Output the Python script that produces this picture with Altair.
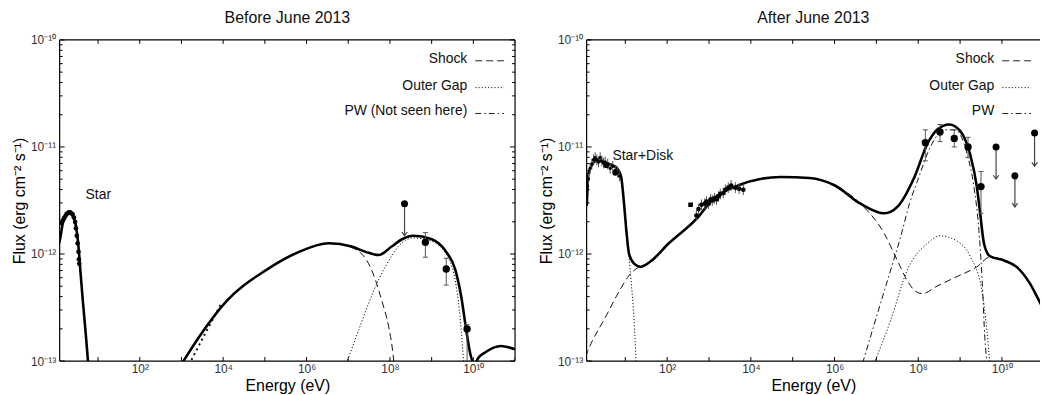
import altair as alt
import pandas as pd

# ---------------- data: log10(E/eV) and log10(flux) ----------------
# Left panel: Before June 2013
L_star_logE = [0.05, 0.09, 0.15, 0.21, 0.27, 0.33, 0.39, 0.45, 0.50, 0.54, 0.57, 0.64, 0.71, 0.77]
L_star_logF = [-11.92, -11.86, -11.72, -11.65, -11.62, -11.62, -11.64, -11.70, -11.82, -11.97, -12.13, -12.46, -12.77, -13.06]
L_starpts_logE = [0.12, 0.15, 0.18, 0.21, 0.24, 0.27, 0.30, 0.33, 0.36, 0.39, 0.42, 0.45, 0.47, 0.49, 0.51, 0.53, 0.54, 0.55]
L_starpts_logF = [-11.71, -11.69, -11.67, -11.65, -11.63, -11.62, -11.61, -11.61, -11.62, -11.63, -11.66, -11.70, -11.76, -11.83, -11.90, -11.98, -12.05, -12.09]
L_total_logE = [3.0, 3.43, 4.08, 5.03, 5.82, 6.53, 7.08, 7.42, 7.73, 8.04, 8.30, 8.56, 8.99, 9.33, 9.57, 9.71, 9.83, 9.92, 10.02, 10.12, 10.28, 10.66, 11.0]
L_total_logF = [-13.03, -12.77, -12.44, -12.15, -11.98, -11.90, -11.93, -11.98, -12.01, -11.93, -11.86, -11.83, -11.86, -11.97, -12.15, -12.40, -12.71, -12.92, -13.03, -12.97, -12.92, -12.86, -12.89]
L_shock_logE = [3.0, 3.43, 4.08, 5.03, 5.82, 6.53, 7.01, 7.41, 7.65, 7.80, 7.97, 8.05, 8.10]
L_shock_logF = [-13.03, -12.77, -12.44, -12.15, -11.98, -11.90, -11.93, -12.04, -12.24, -12.43, -12.68, -12.86, -13.03]
L_og_logE = [6.96, 7.25, 7.49, 7.73, 8.04, 8.20, 8.56, 8.99, 9.33, 9.59, 9.69, 9.77]
L_og_logF = [-13.02, -12.71, -12.46, -12.24, -12.02, -11.93, -11.85, -11.88, -11.99, -12.30, -12.62, -13.02]
L_xdot_logE = [3.24, 3.60, 3.96]
L_xdot_logF = [-12.99, -12.72, -12.46]
L_pts_logE = [8.85, 9.35, 9.85]
L_pts_logF = [-11.89, -12.14, -12.70]
L_pts_hi = [-11.80, -12.04, -12.66]
L_pts_lo = [-12.03, -12.29, -13.0]
L_ul_logE = [8.35]
L_ul_logF = [-11.53]
L_ul_tip = [-11.83]

# Right panel: After June 2013
R_total_logE = [0.08, 0.12, 0.2, 0.3, 0.38, 0.5, 0.62, 0.78, 0.9, 0.97, 1.03, 1.09, 1.21, 1.37, 1.6, 2.04, 2.75, 3.06,
                3.63, 4.72, 5.4, 6.01, 6.62, 7.19, 7.5, 7.91, 8.22, 8.45, 8.74, 9.0, 9.24, 9.4, 9.48, 9.57, 9.71,
                10.05, 10.35, 10.66, 10.88, 11.0]
R_total_logF = [-11.55, -11.25, -11.17, -11.13, -11.13, -11.15, -11.16, -11.19, -11.28, -11.53, -11.8, -12.0, -12.09,
                -12.12, -12.07, -11.90, -11.65, -11.50, -11.37, -11.28, -11.29, -11.36, -11.53, -11.62, -11.56,
                -11.28, -10.97, -10.84, -10.79, -10.85, -11.07, -11.37, -11.62, -11.90, -12.02, -12.06, -12.12,
                -12.27, -12.43, -12.52]
R_shock_logE = [0.05, 0.10, 0.54, 0.85, 1.09, 1.33, 1.6, 2.04, 2.75, 3.06, 3.63, 4.72, 5.4, 6.01, 6.62, 7.19, 7.5,
                7.74, 7.91, 8.10, 8.45, 8.93, 9.40, 9.71, 10.05, 10.35, 10.66, 10.88, 11.0]
R_shock_logF = [-12.96, -12.91, -12.58, -12.35, -12.20, -12.12, -12.08, -11.90, -11.65, -11.50, -11.37, -11.28,
                -11.29, -11.36, -11.53, -11.81, -12.06, -12.25, -12.34, -12.37, -12.30, -12.21, -12.12, -12.03,
                -12.06, -12.12, -12.27, -12.43, -12.52]
R_star_logE = [0.08, 0.12, 0.2, 0.3, 0.38, 0.5, 0.62, 0.78, 0.9, 0.97, 1.05, 1.13, 1.21, 1.26]
R_star_logF = [-11.55, -11.25, -11.17, -11.13, -11.13, -11.15, -11.16, -11.19, -11.28, -11.53, -11.85, -12.21, -12.62, -13.02]
R_og_logE = [6.95, 7.34, 7.74, 8.22, 8.52, 8.93, 9.24, 9.52, 9.64, 9.71]
R_og_logF = [-13.02, -12.62, -12.15, -11.90, -11.83, -11.88, -12.02, -12.34, -12.71, -13.02]
R_pw_logE = [6.67, 7.03, 7.34, 7.58, 7.79, 7.98, 8.29, 8.62, 8.88, 9.17, 9.33, 9.45, 9.50, 9.55, 9.57, 9.64]
R_pw_logF = [-13.02, -12.55, -12.15, -11.84, -11.53, -11.32, -11.00, -10.84, -10.84, -11.07, -11.37, -11.78, -12.06,
             -12.43, -12.62, -13.02]
R_disk_logE = [0.12, 0.16, 0.20, 0.24, 0.28, 0.32, 0.36, 0.40, 0.44, 0.48, 0.52, 0.58, 0.64, 0.70, 0.76, 0.82, 0.86]
R_disk_logF = [-11.30, -11.20, -11.16, -11.12, -11.10, -11.12, -11.14, -11.10, -11.13, -11.15, -11.14, -11.16, -11.20,
               -11.18, -11.22, -11.24, -11.27]
R_diskbig_logE = [0.55, 0.76]
R_diskbig_logF = [-11.17, -11.24]
R_xray_logE = [2.70, 2.75, 2.82, 2.90, 2.94, 2.99, 3.04, 3.08, 3.13, 3.18, 3.23, 3.27, 3.34, 3.39, 3.46, 3.53, 3.63, 3.72, 3.82]
R_xray_logF = [-11.64, -11.58, -11.54, -11.53, -11.51, -11.53, -11.49, -11.50, -11.48, -11.49, -11.46, -11.44, -11.43,
               -11.40, -11.38, -11.36, -11.38, -11.39, -11.40]
R_sq_logE = [2.56]
R_sq_logF = [-11.54]
R_gam_logE = [8.17, 8.52, 8.86, 9.19, 9.50]
R_gam_logF = [-10.96, -10.86, -10.92, -11.00, -11.37]
R_gam_hi = [-10.84, -10.79, -10.84, -10.91, -11.23]
R_gam_lo = [-11.13, -10.95, -11.00, -11.10, -11.62]
R_ul_logE = [9.86, 10.31, 10.78]
R_ul_logF = [-11.00, -11.27, -10.87]
R_ul_tip = [-11.30, -11.56, -11.18]

x_tick_exp = [1, 2, 3, 4, 5, 6, 7, 8, 9, 10, 11]
x_label_exp = [2, 4, 6, 8, 10]
y_label_exp = [-13, -12, -11, -10]
y_minor_mult = [2, 3, 4, 5, 6, 7, 8, 9]

legend_names_L = ["Shock", "Outer Gap", "PW (Not seen here)"]
legend_names_R = ["Shock", "Outer Gap", "PW"]

# ---------------- helpers ----------------
FONT = "Liberation Sans"
H = 323
WL = 458
WR = 456
ysc = alt.Scale(type="log", domain=[1e-13, 1e-10], nice=False)
SUP = str.maketrans("-0123456789", "⁻⁰¹²³⁴⁵⁶⁷⁸⁹")


def lbl_expr(exps):
    s = "''"
    for e in reversed(exps):
        s = f"(round(log(datum.value)/LN10)=={e} ? '10{str(e).translate(SUP)}' : {s})"
    return s


def p10(v):
    return [10 ** x for x in v]


def xy(le, lf, **extra):
    d = {"E": p10(le), "F": p10(lf)}
    for k, v in extra.items():
        d[k] = p10(v)
    return pd.DataFrame(d)


def X(xs, field="E"):
    return alt.X(f"{field}:Q", scale=xs, axis=None)


def Y(field="F"):
    return alt.Y(f"{field}:Q", scale=ysc, axis=None)


def line(le, lf, xs, width=1.0, dash=None, color="#111"):
    kw = dict(clip=True, strokeWidth=width, color=color, interpolate="monotone")
    if dash:
        kw["strokeDash"] = dash
    return alt.Chart(xy(le, lf)).mark_line(**kw).encode(x=X(xs), y=Y())


def dots(le, lf, xs, size=45, shape="circle", color="black"):
    return alt.Chart(xy(le, lf)).mark_point(filled=True, size=size, shape=shape, color=color, opacity=1,
                                            clip=True).encode(x=X(xs), y=Y())


def errbars(le, lf, lo, hi, xs, cap=True):
    df = xy(le, lf, lo=lo, hi=hi)
    out = [alt.Chart(df).mark_rule(color="#555", strokeWidth=1, clip=True).encode(x=X(xs), y=Y("lo"), y2="hi:Q")]
    if cap:
        for f in ("lo", "hi"):
            out.append(alt.Chart(df).mark_point(shape="M-1,0L1,0", size=25, color="#555", strokeWidth=1,
                                                filled=False, opacity=1, clip=True).encode(x=X(xs), y=Y(f)))
    return out


def upper_limits(le, lf, tip, xs):
    df = xy(le, lf, tip=tip)
    return [
        alt.Chart(df).mark_rule(color="#444", strokeWidth=1.2, clip=True).encode(x=X(xs), y=Y("F"), y2="tip:Q"),
        alt.Chart(df).mark_point(shape="M-1,-1.4L0,0L1,-1.4", size=30, color="#444", strokeWidth=1.2,
                                 filled=False, opacity=1, clip=True).encode(x=X(xs), y=Y("tip")),
        alt.Chart(df).mark_point(filled=True, size=50, color="black", opacity=1, clip=True).encode(x=X(xs), y=Y("F")),
    ]


def frame_and_ticks(xs, W, right=True):
    one = pd.DataFrame({"a": [0]})
    layers = []
    segs = [(0, W, 0, 0), (0, W, H, H), (0, 0, 0, H)]
    if right:
        segs.append((W, W, 0, H))
    for x1, x2, y1, y2 in segs:
        layers.append(alt.Chart(one).mark_rule(color="black", strokeWidth=1.2).encode(
            x=alt.value(x1), x2=alt.value(x2), y=alt.value(y1), y2=alt.value(y2)))
    xt = pd.DataFrame({"E": [10.0 ** e for e in x_tick_exp]})
    for ya, yb in ((H, H - 4), (0, 4)):
        layers.append(alt.Chart(xt).mark_rule(color="black", strokeWidth=1, clip=True).encode(
            x=X(xs), y=alt.value(ya), y2=alt.value(yb)))
    ymaj = pd.DataFrame({"F": [10.0 ** e for e in y_label_exp]})
    ymin = pd.DataFrame({"F": [m * 10.0 ** e for e in y_label_exp[:-1] for m in y_minor_mult]})
    sides = [(0, 1)] + ([(W, -1)] if right else [])
    for x0, sgn in sides:
        for df, ln in ((ymaj, 5), (ymin, 3)):
            layers.append(alt.Chart(df).mark_rule(color="black", strokeWidth=1).encode(
                y=Y(), x=alt.value(x0), x2=alt.value(x0 + sgn * ln)))
    return layers


def axes_layer(xs):
    df = pd.DataFrame({"E": [xs.domain[0], xs.domain[1]], "F": [1e-13, 1e-10]})
    return alt.Chart(df).mark_point(opacity=0).encode(
        x=alt.X("E:Q", scale=xs, axis=alt.Axis(
            values=[10.0 ** e for e in x_label_exp], labelExpr=lbl_expr(x_label_exp), ticks=False, domain=False,
            grid=False, labelFontSize=12, labelPadding=3, labelColor="#333", labelFont=FONT, labelFlush=False,
            title="Energy (eV)", titleFont=FONT, titleFontSize=16, titleFontWeight="normal", titleColor="black",
            titleY=30, titleBaseline="alphabetic")),
        y=alt.Y("F:Q", scale=ysc, axis=alt.Axis(
            values=[10.0 ** e for e in y_label_exp], labelExpr=lbl_expr(y_label_exp), ticks=False, domain=False,
            grid=False, labelFontSize=12, labelPadding=4, labelColor="#333", labelFont=FONT,
            title="Flux (erg cm⁻² s⁻¹)", titleFont=FONT, titleFontSize=16, titleFontWeight="normal",
            titleColor="black", titleX=-35, titleY=H / 2, titleAngle=270, titleAlign="center",
            titleBaseline="alphabetic")),
    )


def legend(names, W):
    one = pd.DataFrame({"a": [0]})
    ys = [19, 46, 72]
    dashes = [[7, 4], [1.2, 2], [6, 3, 1.5, 3]]
    out = []
    for name, yy, dash in zip(names, ys, dashes):
        out.append(alt.Chart(one).mark_text(text=name, align="right", baseline="middle", fontSize=14, font=FONT,
                                            color="#111").encode(x=alt.value(410), y=alt.value(yy)))
        out.append(alt.Chart(one).mark_rule(color="#222", strokeWidth=1, strokeDash=dash).encode(
            x=alt.value(418), x2=alt.value(447), y=alt.value(yy + 2)))
    return out


def label(txt, x, y):
    return alt.Chart(pd.DataFrame({"a": [0]})).mark_text(text=txt, align="left", baseline="alphabetic", fontSize=14,
                                                         font=FONT, color="#111").encode(x=alt.value(x), y=alt.value(y))


# ---------------- left panel ----------------
xsL = alt.Scale(type="log", domain=[10 ** 0.079, 1e11], nice=False)
left_layers = [axes_layer(xsL)]
left_layers += frame_and_ticks(xsL, WL, right=True)
left_layers += [
    line(L_shock_logE, L_shock_logF, xsL, width=1, dash=[7, 4]),
    line(L_og_logE, L_og_logF, xsL, width=1, dash=[1.2, 2]),
    line(L_xdot_logE, L_xdot_logF, xsL, width=2, dash=[2, 3.5]),
    line(L_total_logE, L_total_logF, xsL, width=2.6, color="black"),
    line(L_star_logE, L_star_logF, xsL, width=2.6, color="black"),
    dots(L_starpts_logE, L_starpts_logF, xsL, size=22),
]
left_layers += errbars(L_pts_logE, L_pts_logF, L_pts_lo, L_pts_hi, xsL)
left_layers += [dots(L_pts_logE, L_pts_logF, xsL, size=55)]
left_layers += upper_limits(L_ul_logE, L_ul_logF, L_ul_tip, xsL)
left_layers += legend(legend_names_L, WL)
left_layers += [label("Star", 26, 160)]
left = alt.layer(*left_layers).resolve_axis(x="independent", y="independent").properties(
    width=WL, height=H,
    title=alt.TitleParams("Before June 2013", fontSize=16, fontWeight="normal", font=FONT, frame="group",
                          anchor="middle", offset=8, color="#111"))

# ---------------- right panel ----------------
xsR = alt.Scale(type="log", domain=[10 ** 0.076, 10 ** 10.91], nice=False)
right_layers = [axes_layer(xsR)]
right_layers += frame_and_ticks(xsR, WR, right=False)
right_layers += [
    line(R_shock_logE, R_shock_logF, xsR, width=1, dash=[7, 4]),
    line(R_og_logE, R_og_logF, xsR, width=1, dash=[1.2, 2]),
    line(R_pw_logE, R_pw_logF, xsR, width=1, dash=[6, 3, 1.5, 3]),
    line(R_star_logE, R_star_logF, xsR, width=1, dash=[1.2, 2]),
    line(R_total_logE, R_total_logF, xsR, width=2.6, color="black"),
]
right_layers += errbars(R_disk_logE, R_disk_logF, [v - 0.05 for v in R_disk_logF], [v + 0.05 for v in R_disk_logF],
                        xsR, cap=False)
right_layers += [dots(R_disk_logE, R_disk_logF, xsR, size=12), dots(R_diskbig_logE, R_diskbig_logF, xsR, size=35)]
right_layers += errbars(R_xray_logE, R_xray_logF, [v - 0.05 for v in R_xray_logF], [v + 0.05 for v in R_xray_logF],
                        xsR, cap=False)
right_layers += [dots(R_xray_logE, R_xray_logF, xsR, size=22), dots(R_sq_logE, R_sq_logF, xsR, size=22, shape="square")]
right_layers += errbars(R_gam_logE, R_gam_logF, R_gam_lo, R_gam_hi, xsR)
right_layers += [dots(R_gam_logE, R_gam_logF, xsR, size=55)]
right_layers += upper_limits(R_ul_logE, R_ul_logF, R_ul_tip, xsR)
right_layers += legend(legend_names_R, WR)
right_layers += [label("Star+Disk", 26, 121)]
right = alt.layer(*right_layers).resolve_axis(x="independent", y="independent").properties(
    width=WR, height=H,
    title=alt.TitleParams("After June 2013", fontSize=16, fontWeight="normal", font=FONT, frame="group",
                          anchor="middle", offset=8, color="#111"))

chart = alt.hconcat(left, right, spacing=21).properties(
    padding={"left": 12, "top": 9, "right": 0, "bottom": 0}
).configure(font=FONT).configure_view(stroke=None)

chart.save("out.html", embed_options={"renderer": "svg", "actions": False})
